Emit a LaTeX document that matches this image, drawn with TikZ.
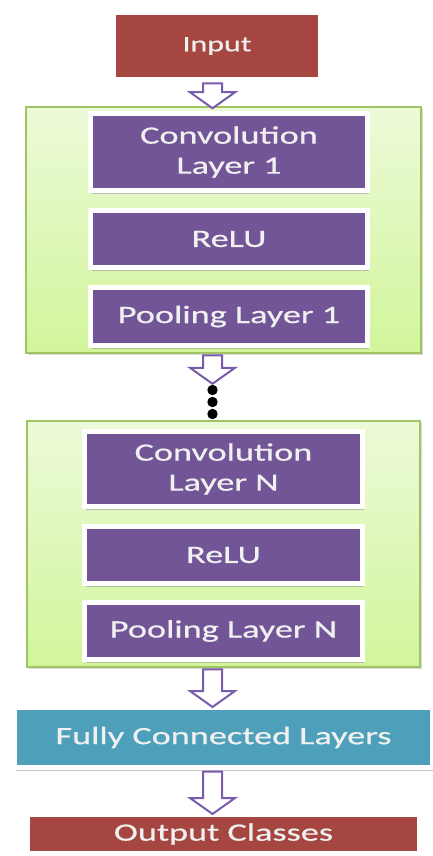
\documentclass[tikz,border=0pt]{standalone}
\usepackage{fontspec}
\newfontfamily\boxfont[FakeStretch=1.45, FakeBold=0.6]{Carlito}
\usetikzlibrary{calc,shadows}
\definecolor{brick}{RGB}{165,70,64}
\definecolor{plum}{RGB}{113,85,150}
\definecolor{lagoon}{RGB}{78,160,186}
\definecolor{leaftop}{RGB}{236,250,216}
\definecolor{leafbot}{RGB}{210,245,155}
\definecolor{leafline}{RGB}{160,195,100}
\definecolor{arrowplum}{RGB}{122,92,172}
\tikzset{
	layerbox/.style={draw=white, line width=5pt, inner sep=0pt, align=center,
		text=white!94!black, font=\boxfont\fontsize{25}{30}\selectfont,
		drop shadow={shadow xshift=1.5pt, shadow yshift=-3pt, fill=black!45, opacity=0.5}},
	groupbox/.style={draw=leafline, line width=1.5pt, top color=leaftop, bottom color=leafbot,
		drop shadow={shadow xshift=1.5pt, shadow yshift=-2pt, fill=black!40, opacity=0.35}},
	arrowline/.style={draw=arrowplum, fill=white, line width=2pt, line join=miter}
}
\def\blockarrow(#1)(#2){\draw[arrowline] ($(#1.south -| axis)+(-9.5,1.5)$) -- ($(#1.south -| axis)+(9.5,1.5)$) -- ($(#2.north -| axis)+(9.5,-14)$) -- ($(#2.north -| axis)+(22.5,-14)$) -- ($(#2.north -| axis)+(0,2)$) -- ($(#2.north -| axis)+(-22.5,-14)$) -- ($(#2.north -| axis)+(-9.5,-14)$) -- cycle;}

\begin{document}
\begin{tikzpicture}[x=1pt, y=-1pt]
			%%%%% START %%%%%
			
			\fill[white] (0, 0) rectangle (433, 856);
			\useasboundingbox (0, 0) rectangle (433, 856);
			\coordinate (axis) at (212.5, 0);
			
			\node[layerbox, fill=brick, minimum width=207pt, minimum height=67pt, font=\boxfont\fontsize{22}{26}\selectfont] (input) at (217, 46) {Input};
			
			\node[groupbox, minimum width=395pt, minimum height=246pt] (grp1) at (223.5, 230) {};
			\node[layerbox, fill=plum, minimum width=277pt, minimum height=77pt] (conv1) at (229, 152) {Convolution\\Layer 1};
			\node[layerbox, fill=plum, minimum width=277pt, minimum height=57pt] (relu1) at (229, 239) {ReLU};
			\node[layerbox, fill=plum, minimum width=277pt, minimum height=58pt] (pool1) at (229, 316.5) {Pooling Layer 1};
			
			\node[minimum width=12pt, minimum height=40pt, inner sep=0pt] (dots) at (212.5, 402) {};
			\foreach \dy in {-12, 0, 12}
				\fill[black] ($(dots.center)+(0, \dy)$) circle (5.2);
			
			\node[groupbox, minimum width=393pt, minimum height=246pt] (grpN) at (223.5, 544) {};
			\node[layerbox, fill=plum, minimum width=278pt, minimum height=75pt] (convN) at (223.5, 469) {Convolution\\Layer N};
			\node[layerbox, fill=plum, minimum width=278pt, minimum height=57pt] (reluN) at (223.5, 555) {ReLU};
			\node[layerbox, fill=plum, minimum width=278pt, minimum height=57pt] (poolN) at (223.5, 631) {Pooling Layer N};
			
			\node[layerbox, fill=lagoon, minimum width=418pt, minimum height=60pt] (fc) at (223.5, 737.5) {Fully Connected Layers};
			\node[layerbox, fill=brick, minimum width=392pt, minimum height=39pt] (output) at (223.5, 834) {Output Classes};
			
			\blockarrow(input)(grp1)
			\blockarrow(grp1)(dots)
			\blockarrow(grpN)(fc)
			\blockarrow(fc)(output)
			
			%%%%% END %%%%%
\end{tikzpicture}
\end{document}
